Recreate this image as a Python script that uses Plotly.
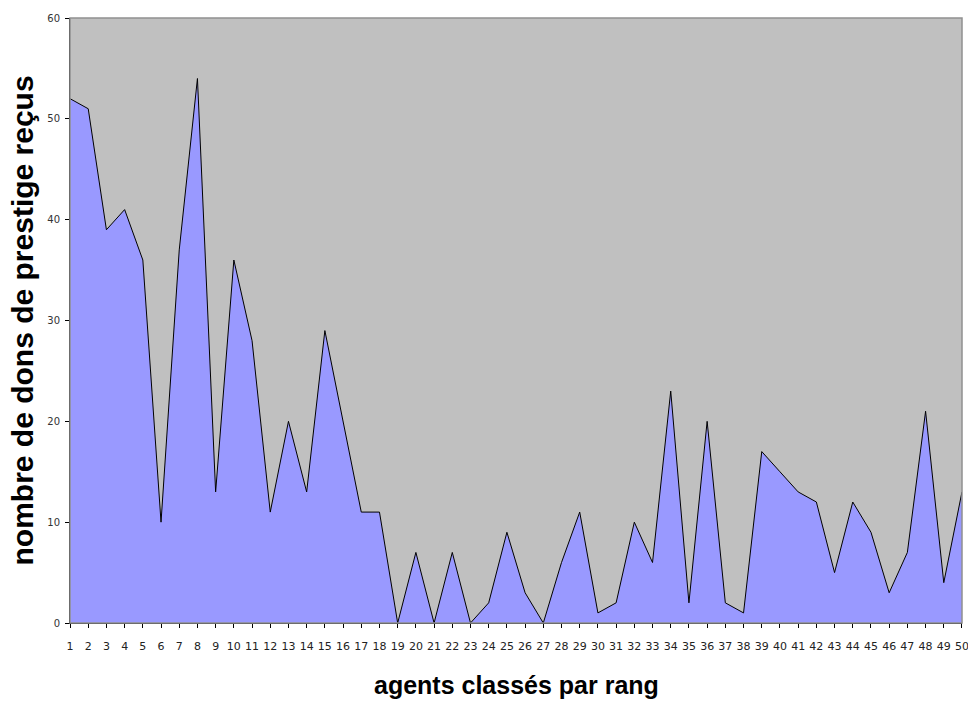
import plotly.graph_objects as go

ranks = list(range(1, 51))
dons = [52, 51, 39, 41, 36, 10, 37, 54, 13, 36,
        28, 11, 20, 13, 29, 20, 11, 11, 0, 7,
        0, 7, 0, 2, 9, 3, 0, 6, 11, 1,
        2, 10, 6, 23, 2, 20, 2, 1, 17, 15,
        13, 12, 5, 12, 9, 3, 7, 21, 4, 13]
y_ticks = [0, 10, 20, 30, 40, 50, 60]
x_title = "agents classés par rang"
y_title = "nombre de dons de prestige reçus"

fig = go.Figure()
fig.add_trace(go.Scatter(
    x=ranks, y=dons, mode="lines", fill="tozeroy",
    fillcolor="#9999FF", line=dict(color="black", width=1),
    hoverinfo="x+y", showlegend=False,
))

fig.update_layout(
    width=968, height=704,
    margin=dict(l=70, r=6, t=18, b=81),
    paper_bgcolor="white", plot_bgcolor="#C0C0C0",
    font=dict(family="Liberation Sans, Arial, sans-serif", color="black"),
    xaxis=dict(range=[0.999, 50.001], tickmode="array", tickvals=ranks,
               ticktext=[str(r) for r in ranks], automargin=False,
               showgrid=False, zeroline=False, showline=True,
               linecolor="black", linewidth=1, ticks="outside",
               ticklen=4, tickcolor="black", ticklabelstandoff=9,
               tickfont=dict(size=11, family="DejaVu Sans, sans-serif", color="#222"),
               tickangle=0, ticklabeloverflow="allow"),
    yaxis=dict(range=[0, 60], tickmode="array", tickvals=y_ticks, automargin=False,
               showgrid=False, zeroline=False, showline=True,
               linecolor="black", linewidth=1, ticks="outside",
               ticklen=4, tickcolor="black", ticklabelstandoff=3,
               tickfont=dict(size=10, family="DejaVu Sans, sans-serif", color="#333")),
    shapes=[dict(type="rect", xref="paper", yref="paper", x0=0, x1=1, y0=0, y1=1,
                 line=dict(color="#909090", width=1.5), layer="above")],
    annotations=[
        dict(text=f"<b>{y_title}</b>", xref="paper", yref="paper", x=0, y=0.5,
             xanchor="center", yanchor="middle", xshift=-48, textangle=-90,
             showarrow=False, font=dict(size=30, color="black")),
        dict(text=f"<b>{x_title}</b>", xref="paper", yref="paper", x=0.5, y=0,
             xanchor="center", yanchor="middle", yshift=-62,
             showarrow=False, font=dict(size=25, color="black")),
    ],
)

fig.write_html("out.html", config={"displayModeBar": False},
               post_script="document.body.style.margin='0';")
